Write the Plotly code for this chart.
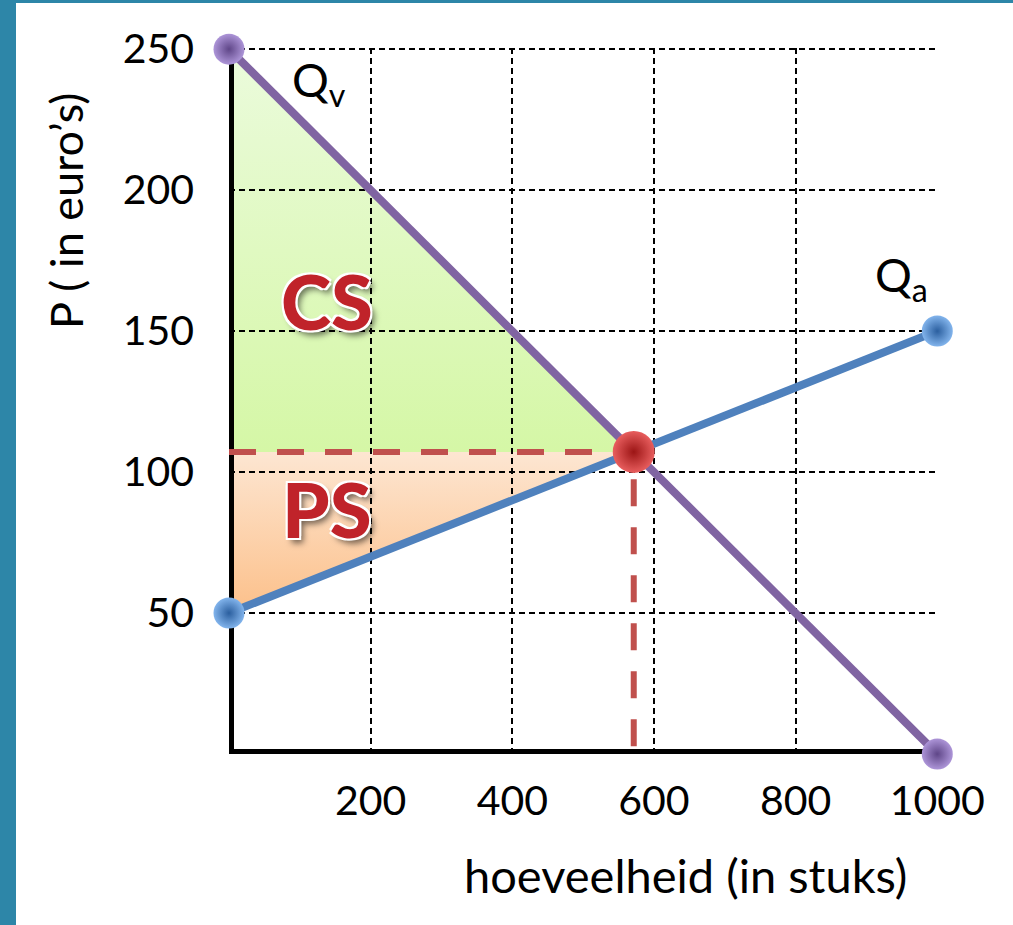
import plotly.graph_objects as go

# Market data: demand (Qv) and supply (Qa) lines, defined by their end points
quantity_ends = [0, 1000]
price_demand = [250, 0]
price_supply = [50, 150]

x_ticks = [200, 400, 600, 800, 1000]
y_ticks = [50, 100, 150, 200, 250]

# Equilibrium: intersection of the two straight lines
slope_d = (price_demand[1] - price_demand[0]) / (quantity_ends[1] - quantity_ends[0])
slope_s = (price_supply[1] - price_supply[0]) / (quantity_ends[1] - quantity_ends[0])
q_eq = (price_supply[0] - price_demand[0]) / (slope_d - slope_s)
p_eq = price_demand[0] + slope_d * q_eq

W, H = 1013, 925
ML, MR, MT, MB = 229, 75, 48, 171
PW, PH = W - ML - MR, H - MT - MB

X_RANGE = [0, 1001]
Y_RANGE = [0, 250.4]

FONT = "Lato"
PURPLE = "#8064a2"
BLUE = "#4f81bd"
RED = "#c0504d"

fig = go.Figure()

# Surplus areas (bottom subplot, so the grid of the top subplot lies over them)
fig.add_trace(go.Scatter(
    x=[quantity_ends[0], quantity_ends[0], q_eq, quantity_ends[0]],
    y=[price_demand[0], p_eq, p_eq, price_demand[0]],
    mode="none", fill="toself",
    fillgradient=dict(type="vertical",
                      colorscale=[[0, "#d5f7a6"], [1, "#ebfbdc"]]),
    hoverinfo="skip", showlegend=False, xaxis="x", yaxis="y",
))
fig.add_trace(go.Scatter(
    x=[quantity_ends[0], quantity_ends[0], q_eq, quantity_ends[0]],
    y=[price_supply[0], p_eq, p_eq, price_supply[0]],
    mode="none", fill="toself",
    fillgradient=dict(type="vertical",
                      colorscale=[[0, "#fcc08a"], [1, "#fde6d2"]]),
    hoverinfo="skip", showlegend=False, xaxis="x", yaxis="y",
))

# Thick axis lines along the quantity and price ranges
fig.add_trace(go.Scatter(
    x=[0, 0, x_ticks[-1]], y=[y_ticks[-1], 0, 0], mode="lines",
    line=dict(color="black", width=10),
    cliponaxis=False, hoverinfo="skip", showlegend=False,
    xaxis="x2", yaxis="y2",
))

# Equilibrium guide lines
fig.add_trace(go.Scatter(
    x=[quantity_ends[0], q_eq, q_eq], y=[p_eq, p_eq, 0],
    mode="lines", line=dict(color=RED, width=6, dash="27px,21px"),
    hoverinfo="skip", showlegend=False, xaxis="x2", yaxis="y2",
))

# Demand line Qv
fig.add_trace(go.Scatter(
    x=quantity_ends, y=price_demand, mode="lines+markers",
    line=dict(color=PURPLE, width=8),
    marker=dict(size=31, color="#ad95d8",
                gradient=dict(type="radial", color="#5f4688"),
                line=dict(width=0)),
    cliponaxis=False, hoverinfo="skip", showlegend=False,
    xaxis="x2", yaxis="y2",
))

# Supply line Qa
fig.add_trace(go.Scatter(
    x=quantity_ends, y=price_supply, mode="lines+markers",
    line=dict(color=BLUE, width=8),
    marker=dict(size=31, color="#82b4ec",
                gradient=dict(type="radial", color="#2b5f9f"),
                line=dict(width=0)),
    cliponaxis=False, hoverinfo="skip", showlegend=False,
    xaxis="x2", yaxis="y2",
))

# Equilibrium point
fig.add_trace(go.Scatter(
    x=[q_eq], y=[p_eq], mode="markers",
    marker=dict(size=42, color="#e85e5e",
                gradient=dict(type="radial", color="#9c1515"),
                line=dict(width=0)),
    cliponaxis=False, hoverinfo="skip", showlegend=False,
    xaxis="x2", yaxis="y2",
))

hidden = dict(domain=[0, 1], showgrid=False, zeroline=False,
              showline=False, showticklabels=False, ticks="")
grid = dict(showgrid=True, gridcolor="black", gridwidth=1.5, griddash="6px,4px",
            zeroline=False, showline=False, ticks="",
            tickfont=dict(family=FONT, size=41, color="black"))

fig.update_layout(
    width=W, height=H,
    margin=dict(l=ML, r=MR, t=MT, b=MB),
    paper_bgcolor="#2d86a8", plot_bgcolor="rgba(0,0,0,0)",
    xaxis=dict(hidden, range=X_RANGE, anchor="y"),
    yaxis=dict(hidden, range=Y_RANGE, anchor="x"),
    xaxis2=dict(grid, range=X_RANGE, domain=[0, 1], anchor="y2",
                tickvals=x_ticks, ticklabelstandoff=19),
    yaxis2=dict(grid, range=Y_RANGE, domain=[0, 1], anchor="x2",
                tickvals=y_ticks, ticklabelstandoff=34),
)

# White panel over the teal page background
fig.add_shape(type="rect", xref="paper", yref="paper", layer="below",
              x0=(16 - ML) / PW, x1=(W - ML) / PW + 0.01,
              y0=-(H - MT - PH) / PH - 0.01, y1=(H - 3 - MB) / PH,
              fillcolor="white", line=dict(width=0))

# Axis titles
fig.add_annotation(xref="paper", yref="paper", x=(685 - ML) / PW, y=-(875 - MT - PH) / PH,
                   xanchor="center", yanchor="middle",
                   text="hoeveelheid (in stuks)", showarrow=False,
                   font=dict(family=FONT, size=47, color="black"))
fig.add_annotation(xref="paper", yref="paper", x=(66 - ML) / PW, y=(MT + PH - 211) / PH,
                   xanchor="center", yanchor="middle",
                   text="P ( in euro’s)", showarrow=False, textangle=-90,
                   font=dict(family=FONT, size=45, color="black"))

# Curve labels
fig.add_annotation(xref="x2", yref="y2", x=127, y=238, text="Q<sub>v</sub>",
                   xanchor="center", yanchor="middle",
                   showarrow=False, font=dict(family=FONT, size=46, color="black"))
fig.add_annotation(xref="x2", yref="y2", x=950, y=169, text="Q<sub>a</sub>",
                   xanchor="center", yanchor="middle",
                   showarrow=False, font=dict(family=FONT, size=46, color="black"))

# Surplus labels
surplus_font = dict(family=FONT, size=76, color="#c0232a", weight=900,
                    shadow="-2px -2px 0 #fff, 2px -2px 0 #fff, -2px 2px 0 #fff, "
                           "2px 2px 0 #fff, 4px 5px 6px rgba(0,0,0,0.55)")
fig.add_annotation(xref="x2", yref="y2", x=138, y=161, text="CS",
                   showarrow=False, font=surplus_font)
fig.add_annotation(xref="x2", yref="y2", x=138, y=87, text="PS",
                   showarrow=False, font=surplus_font)

fig.write_html("out.html")
